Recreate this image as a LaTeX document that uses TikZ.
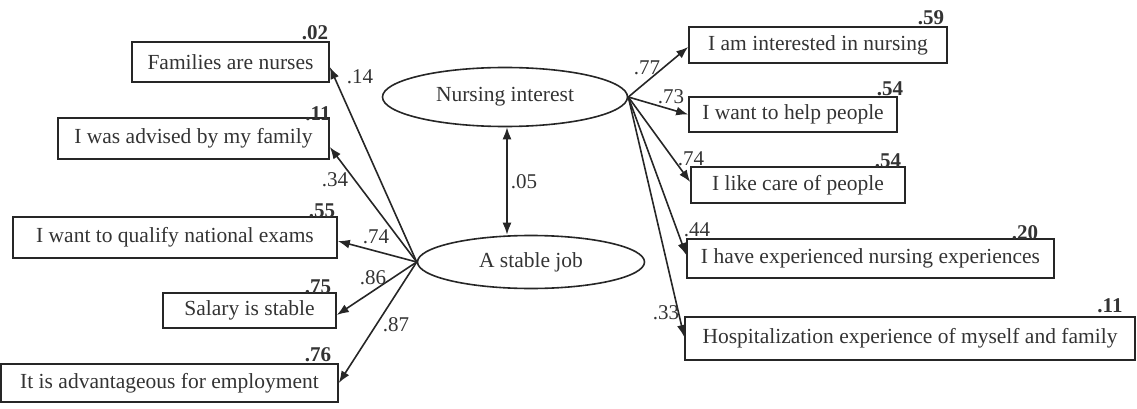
\documentclass[tikz,border=0pt]{standalone}
\usepackage{fontspec}
\setmainfont{Liberation Serif}
\usetikzlibrary{arrows.meta,shapes.geometric}
\begin{document}
\begin{tikzpicture}[x=1pt,y=-1pt,
  every node/.style={text=black!80},
  box/.style={draw=black!85, line width=1.6pt, rectangle, inner sep=0pt, font=\fontsize{21.5}{24}\selectfont},
  latent/.style={draw=black!85, line width=1.6pt, ellipse, inner sep=0pt, font=\fontsize{21.5}{24}\selectfont},
  coef/.style={font=\fontsize{21}{24}\selectfont, inner sep=0pt},
  rsq/.style={font=\fontsize{21}{24}\selectfont\bfseries, inner sep=0pt},
  path/.style={draw=black!85, line width=1.6pt, -{Latex[length=12pt,width=9pt]}},
  dpath/.style={draw=black!85, line width=1.6pt, {Latex[length=12pt,width=9pt]}-{Latex[length=12pt,width=9pt]}}
]
\useasboundingbox (0,0) rectangle (1137,409);

% latent variables
\node[latent, minimum width=245pt, minimum height=59pt] (NI) at (505,97) {Nursing interest};
\node[latent, minimum width=227pt, minimum height=53pt] (SJ) at (531,262) {A stable job};

% left indicators
\node[box, minimum width=197pt, minimum height=40pt] (L1) at (230.5,62) {Families are nurses};
\node[box, minimum width=271pt, minimum height=41pt] (L2) at (193.5,138.5) {I was advised by my family};
\node[box, minimum width=324pt, minimum height=41pt] (L3) at (175,237.5) {I want to qualify national exams};
\node[box, minimum width=173pt, minimum height=35pt] (L4) at (249.5,310.5) {Salary is stable};
\node[box, minimum width=337pt, minimum height=38pt] (L5) at (169.5,383) {It is advantageous for employment};

% right indicators
\node[box, minimum width=258pt, minimum height=36pt] (R1) at (818,45) {I am interested in nursing};
\node[box, minimum width=208pt, minimum height=35pt] (R2) at (793,114.5) {I want to help people};
\node[box, minimum width=214pt, minimum height=36pt] (R3) at (798,185) {I like care of people};
\node[box, minimum width=367pt, minimum height=39pt] (R4) at (870.5,258.5) {I have experienced nursing experiences};
\node[box, minimum width=450pt, minimum height=43pt] (R5) at (910,338.5) {Hospitalization experience of myself and family};

% paths
\draw[path] (SJ.west) -- ([yshift=-5pt]L1.east);
\draw[path] (SJ.west) -- ([yshift=-8.5pt]L2.east);
\draw[path] (SJ.west) -- ([yshift=-3.5pt]L3.east);
\draw[path] (SJ.west) -- ([yshift=-4.5pt]L4.east);
\draw[path] (SJ.west) -- (L5.east);

\draw[path] (NI.east) -- ([yshift=-2pt]R1.west);
\draw[path] (NI.east) -- (R2.west);
\draw[path] (NI.east) -- ([yshift=3pt]R3.west);
\draw[path] (NI.east) -- ([yshift=3.5pt]R4.west);
\draw[path] (NI.east) -- ([yshift=1.5pt]R5.west);

\draw[dpath] ([xshift=2pt]NI.south) -- ([xshift=2pt]NI.south |- SJ.north);

% path coefficients
\node[coef] (c05) at (524,182) {.05};
\node[coef] (c14) at (360,77) {.14};
\node[coef] (c34) at (335,180) {.34};
\node[coef] (c74a) at (376,237) {.74};
\node[coef] (c86) at (373,278) {.86};
\node[coef] (c87) at (396,325) {.87};
\node[coef] (c77) at (647,68) {.77};
\node[coef] (c73) at (671,97) {.73};
\node[coef] (c74b) at (691,159) {.74};
\node[coef] (c44) at (697,230) {.44};
\node[coef] (c33) at (666,313) {.33};

% squared multiple correlations
\node[rsq] (r02) at (315,33) {.02};
\node[rsq] (r11a) at (318,114) {.11};
\node[rsq] (r55) at (322,211) {.55};
\node[rsq] (r75) at (318,287) {.75};
\node[rsq] (r76) at (318,355) {.76};
\node[rsq] (r59) at (931,18) {.59};
\node[rsq] (r54a) at (890,89) {.54};
\node[rsq] (r54b) at (888,161) {.54};
\node[rsq] (r20) at (1025,233) {.20};
\node[rsq] (r11b) at (1110,306) {.11};
\end{tikzpicture}
\end{document}
